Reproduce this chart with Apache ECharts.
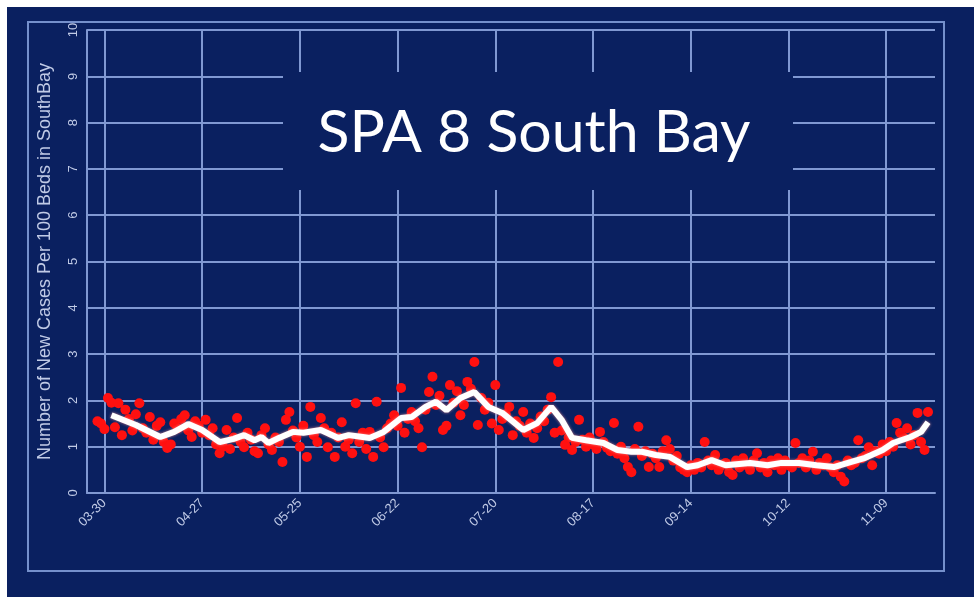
<!DOCTYPE html>
<html>
<head>
<meta charset="utf-8">
<script src="https://cdn.jsdelivr.net/npm/echarts@6/dist/echarts.min.js"></script>
<style>
html,body{margin:0;padding:0;background:#ffffff;width:974px;height:597px;overflow:hidden;}
#chart{position:absolute;left:7px;top:7px;width:967px;height:590px;}
</style>
</head>
<body>
<div id="chart"></div>
<script>
// ---- data ----
const axisStart = '2020-03-25';
const axisDays = 244;           // 03-25 .. 11-23
const tickLabels = ['03-30','04-27','05-25','06-22','07-20','08-17','09-14','10-12','11-09'];
const yTicks = [0,1,2,3,4,5,6,7,8,9,10];
const titleText = 'SPA 8 South Bay';
const yAxisName = 'Number of New Cases Per 100 Beds in SouthBay';

// daily new cases per 100 beds (red dots), starting 03-28
const scatterStart = '03-28';
const dailyValues = [
  1.55,1.50,1.38,2.05,1.95,1.42,1.94,
  1.25,1.80,1.60,1.35,1.70,1.94,1.40,
  1.30,1.64,1.15,1.45,1.53,1.10,0.97,
  1.05,1.50,1.40,1.60,1.68,1.35,1.21,
  1.55,1.45,1.30,1.58,1.25,1.40,1.05,
  0.86,1.00,1.36,0.95,1.20,1.62,1.10,
  0.99,1.30,1.15,0.90,0.86,1.25,1.40,
  1.05,0.93,1.20,1.10,0.67,1.58,1.75,
  1.35,1.20,1.00,1.45,0.78,1.86,1.25,
  1.10,1.62,1.40,0.99,1.30,0.78,1.20,
  1.53,1.00,1.15,0.86,1.94,1.10,1.30,
  0.95,1.32,0.78,1.97,1.20,0.99,1.40,
  1.50,1.68,1.45,2.27,1.30,1.60,1.75,
  1.55,1.40,0.99,1.80,2.18,2.51,1.90,
  2.10,1.36,1.45,2.33,1.95,2.20,1.68,
  1.90,2.40,2.25,2.83,1.47,2.05,1.80,
  1.95,1.50,2.33,1.36,1.60,1.70,1.86,
  1.25,1.55,1.45,1.75,1.30,1.50,1.19,
  1.40,1.65,1.55,1.80,2.07,1.30,2.83,
  1.35,1.04,1.20,0.93,1.10,1.58,1.15,
  1.00,1.20,1.05,0.95,1.32,1.10,0.98,
  0.90,1.51,0.85,1.00,0.75,0.56,0.45,
  0.95,1.43,0.80,0.90,0.56,0.85,0.75,
  0.56,0.90,1.14,0.95,0.70,0.80,0.55,
  0.50,0.45,0.60,0.50,0.65,0.55,1.10,
  0.70,0.60,0.82,0.50,0.60,0.65,0.45,
  0.39,0.70,0.55,0.75,0.60,0.50,0.70,
  0.86,0.55,0.65,0.45,0.70,0.60,0.75,
  0.50,0.70,0.60,0.55,1.08,0.65,0.75,
  0.55,0.70,0.89,0.50,0.65,0.60,0.75,
  0.55,0.45,0.60,0.35,0.25,0.70,0.60,
  0.65,1.14,0.75,0.80,0.99,0.60,0.90,
  0.85,1.05,0.90,1.10,1.00,1.51,1.30,
  1.20,1.40,1.05,1.25,1.73,1.10,0.93,1.75
];

// smoothed trend (white line), read at these dates
const trendDates = ['04-01','04-08','04-15','04-19','04-23','04-27','05-02','05-06','05-09','05-12',
  '05-14','05-16','05-19','05-23','05-26','05-31','06-05','06-08','06-12','06-14',
  '06-18','06-23','06-26','06-30','07-03','07-06','07-10','07-14','07-18','07-22',
  '07-28','08-01','08-05','08-08','08-11','08-15','08-20','08-24','08-28','08-31',
  '09-04','09-08','09-13','09-16','09-20','09-24','10-01','10-06','10-10','10-15',
  '10-20','10-25','10-30','11-03','11-08','11-11','11-16','11-19','11-21'];
const trendValues = [1.68,1.47,1.21,1.32,1.49,1.36,1.10,1.17,1.25,1.14,
  1.21,1.08,1.19,1.32,1.30,1.36,1.19,1.25,1.21,1.19,
  1.32,1.62,1.64,1.86,1.97,1.79,2.05,2.18,1.86,1.73,
  1.36,1.51,1.86,1.58,1.19,1.14,1.08,0.93,0.89,0.89,
  0.82,0.78,0.56,0.60,0.71,0.60,0.65,0.60,0.65,0.65,
  0.60,0.56,0.67,0.76,0.93,1.08,1.21,1.32,1.53];

// ---- build categories ----
const categories = [];
(function(){
  const d0 = new Date(axisStart + 'T00:00:00Z');
  for (let i = 0; i < axisDays; i++) {
    const d = new Date(d0.getTime() + i * 86400000);
    const mm = String(d.getUTCMonth() + 1).padStart(2, '0');
    const dd = String(d.getUTCDate()).padStart(2, '0');
    categories.push(mm + '-' + dd);
  }
})();
const s0 = categories.indexOf(scatterStart);
const scatterData = dailyValues.map((v, i) => [s0 + i, v]);
const trendData = trendDates.map((d, i) => [categories.indexOf(d), trendValues[i]]);
const isTick = (idx) => tickLabels.indexOf(categories[idx]) >= 0;

const NAVY = '#0a2060';
const GRID = '#8098d2';
const LABEL = '#c0cae6';
const FONT = 'Liberation Sans, Arial, sans-serif';

const chart = echarts.init(document.getElementById('chart'), null, {renderer: 'canvas'});
chart.setOption({
  backgroundColor: NAVY,
  animation: false,
  grid: {left: 80, top: 23, right: 39, bottom: 104, containLabel: false},
  xAxis: {
    type: 'category',
    data: categories,
    boundaryGap: false,
    axisLine: {show: true, lineStyle: {color: GRID, width: 2}},
    axisTick: {show: false, interval: (i) => isTick(i)},
    axisLabel: {interval: (i) => isTick(i), rotate: 45, color: LABEL, fontSize: 13,
      fontFamily: FONT, margin: 8},
    splitLine: {show: true, interval: (i) => isTick(i), lineStyle: {color: GRID, width: 2}}
  },
  yAxis: {
    type: 'value',
    min: 0, max: 10, interval: 1,
    name: yAxisName,
    nameLocation: 'middle',
    nameGap: 33,
    nameRotate: 90,
    nameTextStyle: {color: LABEL, fontSize: 18, fontFamily: FONT},
    axisLine: {show: true, lineStyle: {color: GRID, width: 2}},
    axisTick: {show: false},
    axisLabel: {color: LABEL, fontSize: 13, rotate: 90, margin: 7,
      fontFamily: FONT,
      formatter: (v) => yTicks.indexOf(v) >= 0 ? String(v) : ''},
    splitLine: {show: true, lineStyle: {color: GRID, width: 2}}
  },
  graphic: [
    {type: 'rect', z: 1, silent: true,
      shape: {x: 21, y: 15, width: 916, height: 549},
      style: {fill: 'none', stroke: '#7590cc', lineWidth: 2}},
    {type: 'rect', z: 5, silent: true,
      shape: {x: 276, y: 65, width: 510, height: 118},
      style: {fill: NAVY}},
    {type: 'text', z: 6, silent: true, x: 527, y: 126,
      style: {text: titleText, fill: '#ffffff', font: '59px Lato, "Open Sans", sans-serif',
        textAlign: 'center', textVerticalAlign: 'middle'}}
  ],
  series: [
    {type: 'scatter', data: scatterData, symbolSize: 10,
      itemStyle: {color: '#ff1010', opacity: 1}, z: 2},
    {type: 'line', data: trendData, showSymbol: false, symbol: 'none',
      lineStyle: {color: '#ffffff', width: 6,
        shadowColor: 'rgba(255,150,150,0.8)', shadowBlur: 3}, z: 3}
  ]
});
</script>
</body>
</html>
